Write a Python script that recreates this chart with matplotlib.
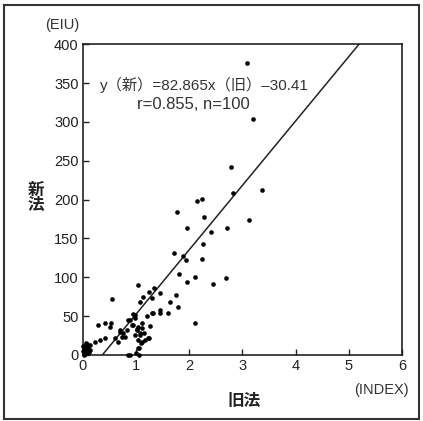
import numpy as np
import matplotlib.pyplot as plt
from matplotlib.patches import Rectangle

plt.rcParams['font.family'] = ['Liberation Sans', 'Noto Sans CJK JP']

# old method index (x) vs new method EIU (y)
old_idx = [3.08, 3.20, 2.78, 2.82, 3.37, 2.14, 2.24, 1.77, 2.28, 3.12,
           1.96, 2.41, 2.71, 2.26, 1.71, 1.88, 1.94, 2.24, 1.81, 2.11,
           1.96, 2.45, 2.69, 1.03, 1.34, 1.24, 1.13, 1.30, 1.75, 0.55,
           1.45, 1.07, 1.64, 1.79, 1.45, 1.32, 1.60, 2.11, 0.98, 0.88,
           0.94, 1.11, 1.02, 1.15, 1.07, 1.03, 1.11, 1.24, 1.03, 0.88,
           1.00, 0.28, 0.41, 0.51, 0.53, 0.70, 0.60, 0.32, 0.41, 0.23,
           0.13, 0.08, 0.66, 0.73, 0.75, 0.83, 0.85, 0.02, 0.04, 0.06,
           0.09, 0.02, 0.04, 0.00, 0.13, 0.06, 1.20, 0.94, 0.98, 0.92,
           1.03, 1.11, 0.70, 0.79, 1.02, 1.07, 0.98, 1.09, 1.22, 1.05,
           0.85, 1.05, 1.45, 1.30, 1.17, 1.26, 0.09, 0.01, 0.05, 0.11]
new_eiu = [375.6, 303.5, 241.8, 208.4, 212.2, 198.1, 200.6, 183.9, 177.5, 173.6,
           163.3, 158.2, 163.3, 142.8, 131.2, 127.3, 122.2, 123.5, 104.2, 100.3,
           93.9, 91.3, 99.0, 90.0, 86.2, 81.0, 74.6, 73.3, 77.2, 72.0,
           79.7, 68.2, 68.2, 61.7, 57.9, 54.0, 54.0, 41.2, 51.4, 45.0,
           38.6, 41.2, 33.4, 28.3, 25.7, 19.3, 16.7, 21.9, 9.0, 0.0,
           2.6, 38.6, 41.2, 36.0, 41.2, 29.6, 21.9, 19.3, 21.9, 16.7,
           12.9, 14.1, 16.7, 23.2, 28.3, 32.2, 45.0, 0.0, 3.9, 7.7,
           10.3, 9.0, 1.3, 5.0, 6.4, 12.9, 50.2, 52.7, 47.6, 38.6,
           36.0, 34.7, 32.2, 23.2, 32.2, 28.3, 25.7, 15.4, 21.9, 9.0,
           0.0, 0.0, 54.0, 54.0, 19.3, 37.3, 2.6, 11.0, 15.0, 4.0]

slope = 82.865
icpt = -30.41
x_ticks = [0, 1, 2, 3, 4, 5, 6]
y_ticks = [0, 50, 100, 150, 200, 250, 300, 350, 400]

fig = plt.figure(figsize=(4.23, 4.21), dpi=100)
ax = fig.add_axes([0.196, 0.157, 0.754, 0.738])

ax.scatter(old_idx, new_eiu, s=11, color='black', marker='o', linewidths=0, zorder=3, clip_on=False)

x0 = -icpt / slope
x1 = (400 - icpt) / slope
ax.plot([x0, x1], [slope * x0 + icpt, slope * x1 + icpt], color='#222222', lw=1.1)

ax.set_xlim(0, 6)
ax.set_ylim(0, 400)
ax.set_xticks(x_ticks)
ax.set_yticks(y_ticks)
ax.tick_params(direction='in', length=4, width=1, labelsize=10.5, colors='#222222', pad=3)
for s in ax.spines.values():
    s.set_linewidth(1.2)
    s.set_color('#222222')

ax.text(0.32, 341, 'y（新）=82.865x（旧）–30.41', fontsize=11, color='#333333')
ax.text(1.02, 317, 'r=0.855, n=100', fontsize=12, color='#333333')

fig.text(0.106, 0.941, '(EIU)', fontsize=10.5, color='#333333', ha='left', va='center')
fig.text(0.901, 0.074, '(INDEX)', fontsize=10.5, color='#333333', ha='center', va='center')
fig.text(0.577, 0.046, '旧法', fontsize=12, fontweight='bold', color='#222222', ha='center', va='center')
fig.text(0.085, 0.530, '新\n法', fontsize=12, fontweight='bold', color='#222222', ha='center', va='center', linespacing=1.0)

fig.patches.append(Rectangle((0.009, 0.005), 0.982, 0.983, transform=fig.transFigure,
                             fill=False, edgecolor='#333333', lw=1.5))

fig.savefig('out.png', dpi=100)
